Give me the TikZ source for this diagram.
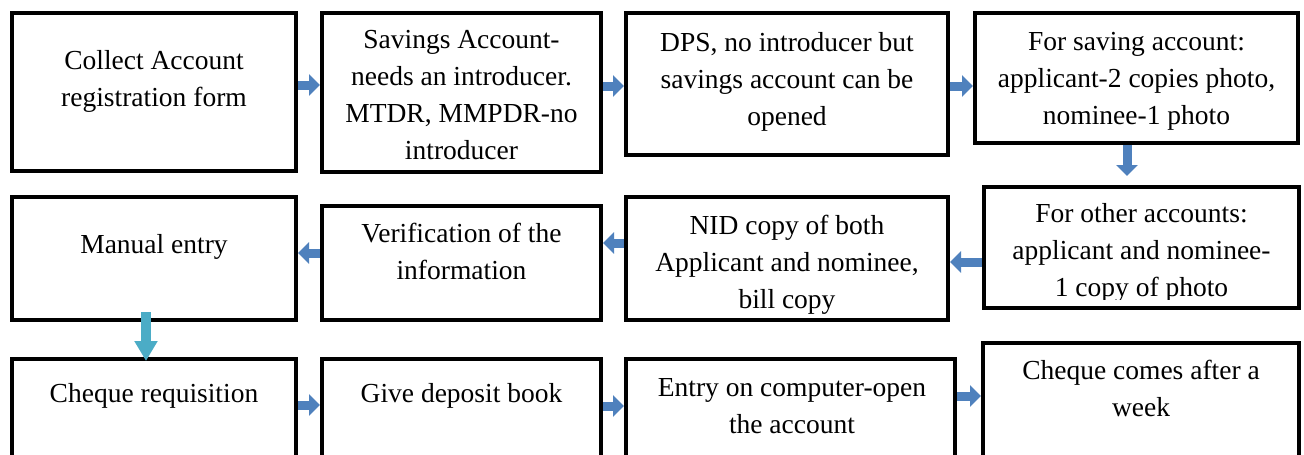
\documentclass[tikz,border=0pt]{standalone}
\usepackage{fontspec}
\setmainfont{Liberation Serif}
\usetikzlibrary{arrows.meta,positioning}
\definecolor{arrowblue}{RGB}{79,129,189}
\definecolor{arrowteal}{RGB}{75,172,198}
\tikzset{
  box/.style={draw, line width=4pt, rectangle, inner sep=0pt},
  txt/.style={align=center, inner sep=0pt, anchor=north,
    font=\fontsize{27.5}{37}\selectfont, execute at begin node=\strut},
  blk/.style={draw=arrowblue, line width=9pt, -{Triangle[width=21pt,length=11pt]}},
  tealblk/.style={draw=arrowteal, line width=10pt, -{Triangle[width=22pt,length=20pt]}}
}
\begin{document}
\begin{tikzpicture}[x=1pt, y=-1pt]
      \clip (0,0) rectangle (1304,455);
      \fill[white] (0,0) rectangle (1304,455);
      % first row
      \node[box, minimum width=284pt, minimum height=158pt] (collect) at (154,92) {};
      \node[box, minimum width=279pt, minimum height=159pt] (savings) at (461.5,92.5) {};
      \node[box, minimum width=322pt, minimum height=142pt] (dps) at (787,84) {};
      \node[box, minimum width=323pt, minimum height=130pt] (savephoto) at (1136.5,78) {};
      \node[txt] (collect-t) at (154,50) {Collect Account\\registration form};
      \node[txt] (savings-t) at (461.5,30) {Savings Account-\\needs an introducer.\\MTDR, MMPDR-no\\introducer};
      \node[txt] (dps-t) at (787,32) {DPS, no introducer but\\savings account can be\\opened};
      \node[txt] (savephoto-t) at (1136.5,32) {For saving account:\\applicant-2 copies photo,\\nominee-1 photo};
      % second row
      \node[box, minimum width=284pt, minimum height=123pt] (manual) at (154,258.5) {};
      \node[box, minimum width=279pt, minimum height=114pt] (verify) at (461.5,263) {};
      \node[box, minimum width=322pt, minimum height=123pt] (nid) at (787,258.5) {};
      \node[box, minimum width=315pt, minimum height=121pt] (otherphoto) at (1141.5,247.5) {};
      \node[txt] (manual-t) at (154,227) {Manual entry};
      \node[txt] (verify-t) at (461.5,223) {Verification of the\\information};
      \node[txt] (nid-t) at (787,215) {NID copy of both\\Applicant and nominee,\\bill copy};
      \begin{scope}
        \clip (986,189) rectangle (1297,299.5);
        \node[txt] (otherphoto-t) at (1141.5,203) {For other accounts:\\applicant and nominee-\\1 copy of photo};
      \end{scope}
      % third row
      \node[box, minimum width=284pt, minimum height=121pt] (cheque) at (154,419.5) {};
      \node[box, minimum width=279pt, minimum height=121pt] (deposit) at (461.5,419.5) {};
      \node[box, minimum width=329pt, minimum height=121pt] (entry) at (790.5,419.5) {};
      \node[box, minimum width=316pt, minimum height=137pt] (comes) at (1141,411.5) {};
      \node[txt] (cheque-t) at (154,376) {Cheque requisition};
      \node[txt] (deposit-t) at (461.5,376) {Give deposit book};
      \node[txt] (entry-t) at (792,378) {Entry on computer-open\\the account};
      \node[txt] (comes-t) at (1141,360) {Cheque comes after a\\week};
      % arrows
      \draw[blk] ([yshift=7pt]collect.east) -- ([yshift=7pt]collect.east -| savings.west);
      \draw[blk] ([yshift=6.5pt]savings.east) -- ([yshift=6.5pt]savings.east -| dps.west);
      \draw[blk] ([yshift=-2pt]dps.east) -- ([yshift=-2pt]dps.east -| savephoto.west);
      \draw[blk, shorten >=9pt] ([xshift=-9.5pt]savephoto.south) -- ([xshift=-9.5pt]savephoto.south |- otherphoto.north);
      \draw[blk] ([yshift=-14.5pt]otherphoto.west) -- ([yshift=-14.5pt]otherphoto.west -| nid.east);
      \draw[blk] ([yshift=15.5pt]nid.west) -- ([yshift=15.5pt]nid.west -| verify.east);
      \draw[blk] ([yshift=10pt]verify.west) -- ([yshift=10pt]verify.west -| manual.east);
      \draw[tealblk, shorten >=-4pt] ([xshift=-8pt,yshift=10pt]manual.south) -- ([xshift=-8pt]manual.south |- cheque.north);
      \draw[blk] ([yshift=14.5pt]cheque.east) -- ([yshift=14.5pt]cheque.east -| deposit.west);
      \draw[blk] ([yshift=13.5pt]deposit.east) -- ([yshift=13.5pt]deposit.east -| entry.west);
      \draw[blk] ([yshift=23.5pt]entry.east) -- ([yshift=23.5pt]entry.east -| comes.west);
\end{tikzpicture}
\end{document}
